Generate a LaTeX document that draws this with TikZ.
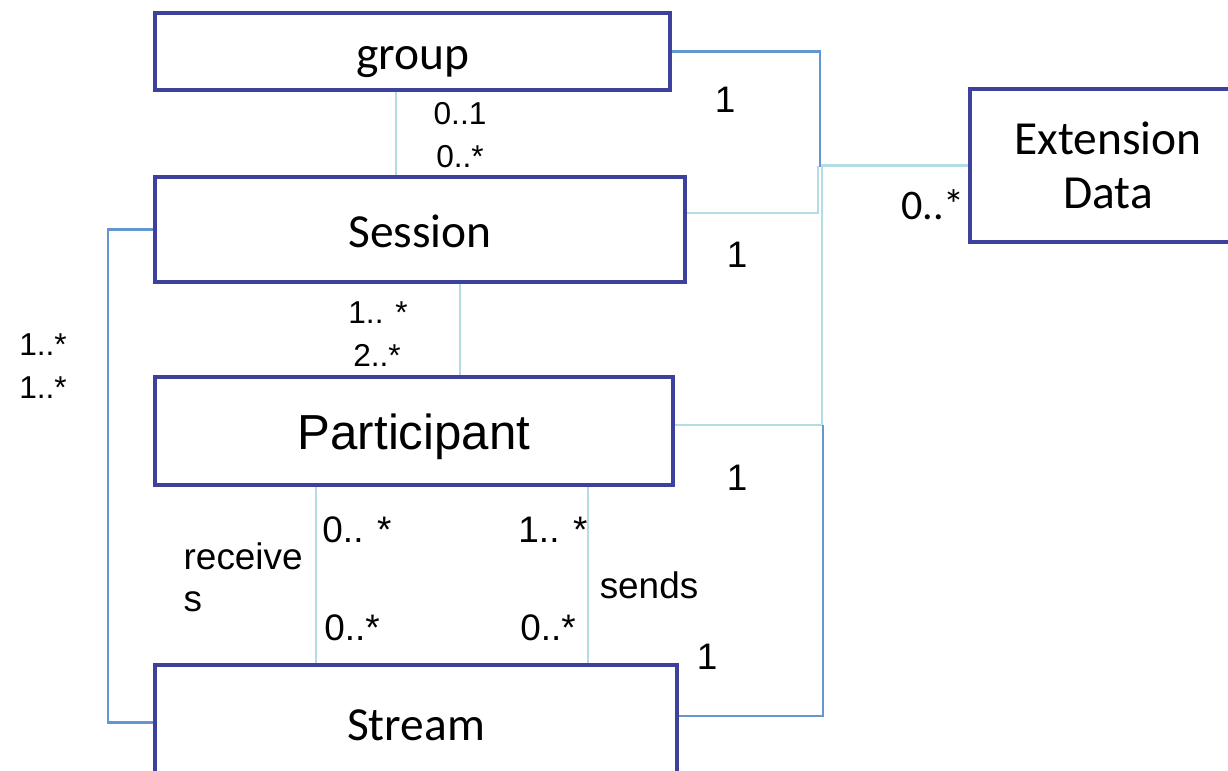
\documentclass[tikz,border=0pt]{standalone}
\usepackage{fontspec}
\setmainfont{Liberation Sans}
\newfontfamily\calib{Carlito}
\usepackage{xcolor}
\definecolor{boxblue}{RGB}{62,65,155}
\definecolor{midblue}{RGB}{100,150,208}
\definecolor{paleblue}{RGB}{180,220,228}

\tikzset{
  cls/.style={draw=boxblue, line width=1.3pt, fill=white, inner sep=0pt},
  clsone/.style={cls, text height=10.5pt, text depth=0pt},
  midline/.style={draw=midblue, line width=0.6pt},
  paleline/.style={draw=paleblue, line width=0.6pt},
  mult/.style={font=\fontsize{9}{11}\selectfont, inner sep=0pt},
  one/.style={font=\fontsize{10.5}{12}\selectfont, inner sep=0pt},
}

\begin{document}
\begin{tikzpicture}
        \clip (0,0) rectangle (12.28,7.70);
        % classes
        \node[clsone, minimum width=5.15cm, minimum height=0.77cm, font=\calib\fontsize{13.5}{15}\selectfont](group) at (4.125,7.185) {group};
        \node[clsone, minimum width=5.30cm, minimum height=1.05cm, font=\calib\fontsize{13.5}{15}\selectfont](session) at (4.20,5.405) {Session};
        \node[clsone, minimum width=5.18cm, minimum height=1.08cm, font=\fontsize{14}{16}\selectfont](participant) at (4.14,3.39) {Participant};
        \node[clsone, minimum width=5.22cm, minimum height=1.15cm, font=\calib\fontsize{13.5}{15}\selectfont](stream) at (4.16,0.475) {Stream};
        \node[cls, minimum width=2.76cm, minimum height=1.53cm, align=center, font=\calib\fontsize{13.5}{15.4}\selectfont](ext) at (11.08,6.045) {Extension\\Data};
        % associations
        \draw[paleline] (3.96,0 |- group.south) -- (3.96,0 |- session.north);
        \draw[paleline] (4.60,0 |- session.south) -- (4.60,0 |- participant.north);
        \draw[midline] (session.west) -- (1.08,5.405) |- (stream.west);
        \draw[paleline] (3.16,0 |- participant.south) -- (3.16,0 |- stream.north);
        \draw[paleline] (5.88,0 |- participant.south) -- (5.88,0 |- stream.north);
        \draw[midline] (group.east) -| (8.20,6.045) -- (ext.west);
        \draw[paleline] (session.east |- 0,5.57) -| (8.18,6.045);
        \draw[paleline] (participant.east |- 0,3.45) -| (8.22,6.045) -- (ext.west);
        \draw[midline] (stream.east |- 0,0.54) -| (8.23,3.45);
        % multiplicities
        \node[mult](m1) at (4.60,6.56) {0..1};
        \node[mult](m2) at (4.60,6.13) {0..*};
        \node[mult](m3) at (3.78,4.57) {1.. *};
        \node[mult](m4) at (3.77,4.15) {2..*};
        \node[mult](m5) at (0.43,4.25) {1..*};
        \node[mult](m6) at (0.43,3.82) {1..*};
        \node[one](m7) at (3.57,2.40) {0.. *};
        \node[one](m8) at (3.52,1.42) {0..*};
        \node[one](m9) at (5.53,2.40) {1.. *};
        \node[one](m10) at (5.48,1.42) {0..*};
        \node[one](o1) at (7.25,6.70) {1};
        \node[one](o2) at (7.37,5.15) {1};
        \node[one](o3) at (7.37,2.92) {1};
        \node[one](o4) at (7.07,1.13) {1};
        \node[inner sep=0pt, font=\calib\fontsize{12}{14}\selectfont](m11) at (9.33,5.65) {0..*};
        % roles
        \node[inner sep=0pt, align=left, anchor=north west, font=\fontsize{10.5}{12}\selectfont](recv) at (1.83,2.28) {receive\\s};
        \node[inner sep=0pt, font=\fontsize{10.5}{12}\selectfont](sends) at (6.49,1.85) {sends};
\end{tikzpicture}
\end{document}
